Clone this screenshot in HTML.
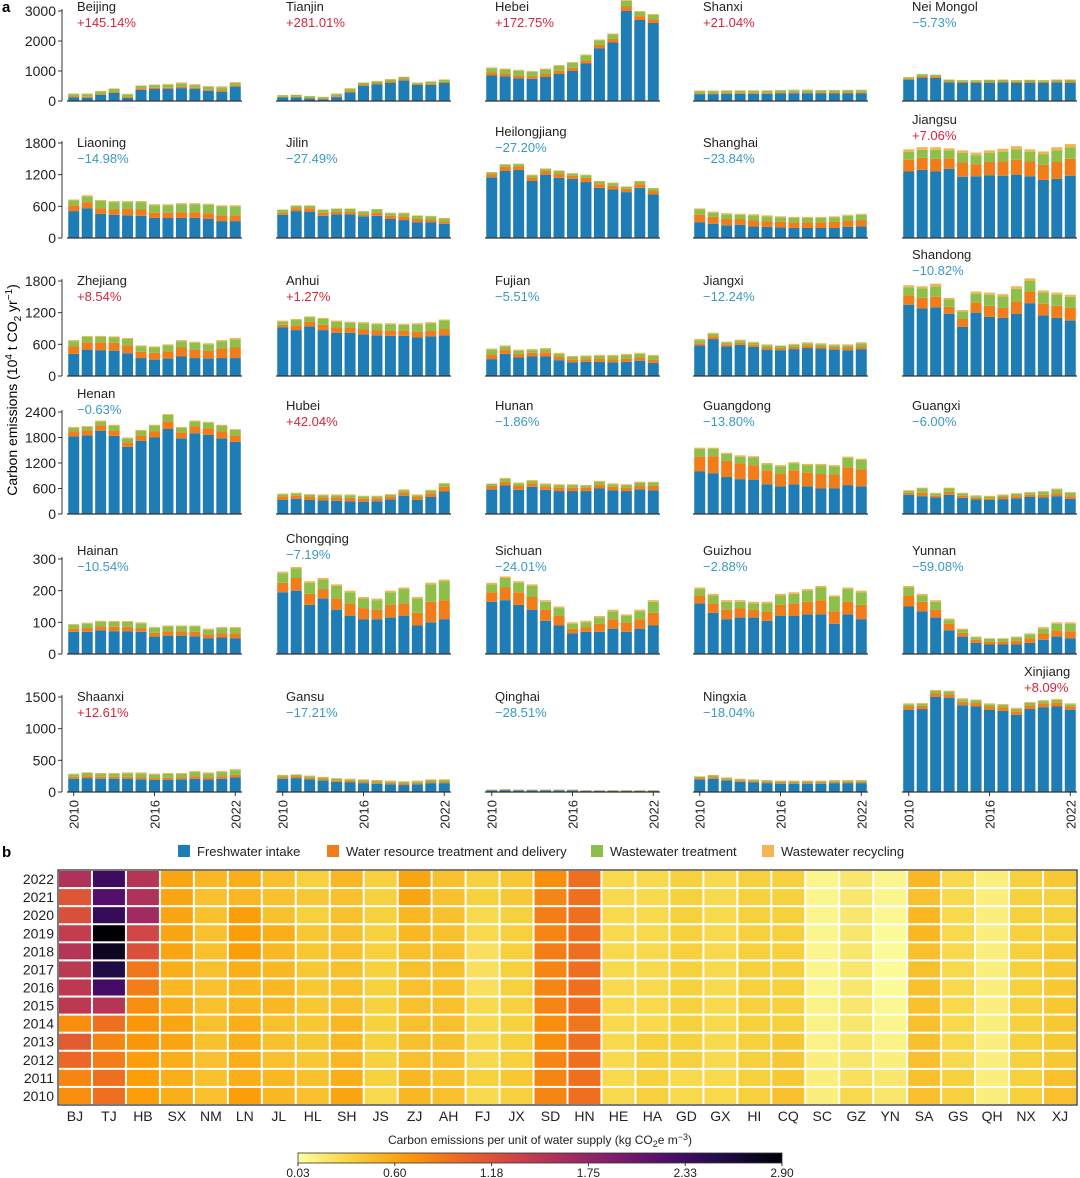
<!DOCTYPE html>
<html><head><meta charset="utf-8">
<style>
html,body{margin:0;padding:0;background:#fff;}
svg{display:block;font-family:"Liberation Sans",Arial,sans-serif;}
</style></head>
<body>
<svg id="fig" width="1080" height="1178" viewBox="0 0 1080 1178" xmlns="http://www.w3.org/2000/svg"></svg>
<script>
const years=[2010,2011,2012,2013,2014,2015,2016,2017,2018,2019,2020,2021,2022];
const panelNames=["Beijing","Tianjin","Hebei","Shanxi","Nei Mongol","Liaoning","Jilin","Heilongjiang","Shanghai","Jiangsu","Zhejiang","Anhui","Fujian","Jiangxi","Shandong","Henan","Hubei","Hunan","Guangdong","Guangxi","Hainan","Chongqing","Sichuan","Guizhou","Yunnan","Shaanxi","Gansu","Qinghai","Ningxia","Xinjiang"];
const panelPcts=["+145.14%","+281.01%","+172.75%","+21.04%","−5.73%","−14.98%","−27.49%","−27.20%","−23.84%","+7.06%","+8.54%","+1.27%","−5.51%","−12.24%","−10.82%","−0.63%","+42.04%","−1.86%","−13.80%","−6.00%","−10.54%","−7.19%","−24.01%","−2.88%","−59.08%","+12.61%","−17.21%","−28.51%","−18.04%","+8.09%"];
const fresh=[
[120,110,200,270,100,370,400,400,430,400,340,300,480],
[120,120,80,60,130,290,510,560,600,680,540,540,600],
[850,820,760,740,800,900,1000,1250,1750,1950,3000,2700,2600],
[230,230,240,240,240,240,250,260,260,250,250,250,250],
[700,780,770,620,600,600,610,620,600,610,600,620,600],
[510,560,460,440,430,420,380,380,380,380,360,320,320],
[440,510,500,420,450,450,410,420,360,340,300,300,270],
[1150,1270,1290,1080,1200,1140,1120,1060,950,920,870,950,830],
[300,270,240,250,220,210,200,190,190,190,190,210,220],
[1260,1290,1260,1310,1160,1170,1190,1180,1200,1170,1100,1120,1180],
[420,500,490,480,430,340,310,330,370,340,330,340,340],
[920,870,940,870,820,820,790,770,760,760,730,750,770],
[320,420,350,370,370,300,260,270,270,260,270,290,250],
[580,700,560,590,550,500,490,510,530,520,500,490,510],
[1350,1280,1300,1180,930,1200,1120,1100,1180,1380,1150,1100,1050],
[1830,1850,1960,1840,1580,1720,1800,2000,1780,1900,1860,1780,1700],
[330,360,330,320,310,300,290,300,340,430,330,400,530],
[580,670,570,640,570,540,540,540,600,560,540,580,560],
[1000,960,870,820,800,700,650,700,650,600,600,680,650],
[450,420,390,450,380,340,330,350,370,400,390,420,360],
[70,70,75,72,72,70,55,58,58,56,50,52,50],
[195,200,155,175,140,120,110,110,115,120,90,100,110],
[165,170,155,140,105,90,65,70,70,80,70,80,90],
[160,130,110,115,115,105,120,120,125,125,95,125,110],
[150,135,115,75,55,35,30,30,30,35,45,55,50],
[210,220,210,210,210,200,190,190,200,210,200,210,230],
[210,220,200,180,160,150,140,130,120,110,120,140,140],
[25,30,25,25,25,25,25,18,18,18,18,18,18],
[200,210,180,160,150,140,130,130,130,130,140,140,140],
[1300,1310,1500,1490,1370,1350,1300,1280,1220,1310,1340,1350,1300]];
const treat=[
[30,30,30,30,30,50,40,40,50,40,40,50,40],
[20,20,20,20,30,40,40,40,50,50,30,40,40],
[100,100,100,90,100,110,110,110,120,120,150,130,130],
[30,30,30,30,30,30,30,30,30,30,30,30,30],
[40,50,50,40,40,40,40,40,40,40,40,40,50],
[110,120,100,100,120,120,100,100,110,110,110,110,110],
[40,50,60,60,50,50,40,60,60,70,60,50,50],
[60,80,70,70,70,80,60,80,70,70,60,70,60],
[140,130,120,110,120,110,110,110,110,110,120,120,120],
[220,230,240,200,270,230,250,270,280,280,290,320,320],
[140,140,150,150,150,120,130,140,170,160,150,180,200],
[50,90,90,100,100,90,100,100,100,100,110,110,120],
[90,80,70,70,80,60,50,50,60,60,60,60,60],
[40,50,40,40,40,40,40,40,50,40,40,50,50],
[180,200,200,130,150,190,210,190,230,220,220,230,240],
[120,120,130,130,110,130,150,180,140,160,160,170,150],
[80,70,70,70,80,80,70,70,70,80,70,90,110],
[80,90,90,80,80,80,80,80,90,80,80,90,100],
[350,400,380,370,350,330,300,330,330,340,330,420,400],
[50,80,40,70,50,40,40,50,50,50,60,70,60],
[10,12,12,14,14,12,12,14,14,14,12,14,15],
[30,40,35,30,35,40,35,30,40,40,40,65,60],
[30,40,40,40,35,30,15,15,25,30,30,30,40],
[25,30,30,30,25,30,35,40,40,45,40,40,45],
[35,30,25,20,12,10,10,10,12,15,20,20,22],
[30,30,30,30,30,35,30,35,30,40,35,40,40],
[25,25,25,25,25,25,25,25,25,25,25,25,25],
[5,6,5,5,5,5,5,4,4,4,4,4,4],
[20,25,20,20,20,20,20,20,20,20,20,20,20],
[50,50,55,55,55,55,50,55,55,55,55,60,55]];
const waste=[
[80,90,90,100,90,80,90,100,110,90,90,110,80],
[50,60,60,50,70,80,60,60,70,70,40,60,60],
[140,130,150,140,150,160,160,160,150,150,190,140,140],
[70,70,70,70,70,70,70,70,70,70,70,70,80],
[50,60,50,50,50,50,50,50,50,50,50,50,50],
[90,110,140,140,130,140,140,140,150,150,160,170,170],
[50,50,50,50,50,50,50,60,50,60,60,60,50],
[30,40,40,40,40,50,40,50,50,50,40,50,50],
[100,80,90,80,90,90,80,80,80,80,80,90,100],
[150,150,170,150,180,170,170,180,200,180,200,220,220],
[100,100,100,100,120,100,100,110,120,130,120,140,150],
[60,100,80,110,110,100,110,110,120,110,140,140,160],
[90,60,60,50,60,60,50,50,50,60,70,70,70],
[60,50,40,40,40,40,40,40,40,40,40,40,60],
[150,180,200,140,140,170,210,220,240,200,210,210,210],
[80,80,90,110,90,110,130,150,110,120,130,130,130],
[50,50,50,50,50,60,50,40,40,50,40,60,70],
[50,70,60,60,50,60,60,50,70,60,60,70,80],
[180,170,160,160,180,140,170,160,170,210,190,220,220],
[40,100,50,80,50,40,40,40,50,50,70,90,80],
[12,14,15,15,15,15,15,15,15,17,15,16,17],
[30,30,35,30,40,35,30,30,40,45,45,55,60],
[25,30,30,35,25,25,15,15,20,25,20,25,35],
[20,25,25,20,20,25,30,30,35,40,45,40,40],
[25,20,25,12,10,8,8,8,10,12,15,20,23],
[40,50,50,50,55,60,55,60,55,65,60,65,75],
[25,25,25,25,25,25,25,25,25,25,25,25,25],
[7,8,7,7,7,7,7,6,6,6,6,6,6],
[20,25,20,20,20,20,20,20,20,20,20,20,20],
[35,30,40,40,40,40,35,40,40,40,40,45,30]];
const recyc=[
[20,20,20,20,20,20,20,30,30,30,30,30,30],
[10,10,10,10,20,20,10,10,10,10,10,20,20],
[30,30,30,30,30,30,30,30,30,30,40,30,30],
[20,20,20,20,20,20,20,20,20,20,20,20,20],
[10,10,10,10,10,10,10,10,10,10,10,10,20],
[20,20,20,20,20,20,20,20,20,20,20,20,20],
[10,10,10,10,10,10,10,10,10,10,10,10,10],
[10,10,10,10,10,10,10,10,10,10,10,10,10],
[20,20,20,20,20,20,20,20,20,20,20,20,20],
[50,50,50,40,50,50,50,60,60,50,50,60,60],
[20,20,20,20,20,20,20,20,20,20,20,20,30],
[20,20,20,20,20,20,20,20,20,20,20,20,20],
[20,20,20,20,20,20,20,20,20,20,20,20,20],
[20,20,10,20,20,20,10,20,20,20,20,20,20],
[40,40,50,30,30,40,40,40,50,50,40,40,40],
[20,20,20,20,20,20,20,20,20,20,20,20,20],
[20,20,20,20,20,20,20,20,20,20,20,20,20],
[10,20,20,20,20,20,20,10,20,20,20,20,20],
[30,30,30,30,30,30,30,30,30,30,30,30,30],
[20,20,20,20,20,20,20,20,20,20,20,20,20],
[3,3,3,3,3,3,3,3,3,3,3,3,3],
[5,5,5,5,5,5,5,5,5,5,5,5,5],
[5,5,5,5,5,5,5,5,5,5,5,5,5],
[5,5,5,5,5,5,5,5,5,5,5,5,5],
[5,5,5,5,3,2,2,2,3,3,5,5,5],
[10,10,10,10,15,15,15,15,15,15,15,15,15],
[10,10,10,10,10,10,10,10,10,10,10,10,10],
[3,3,3,3,3,3,3,2,2,2,2,2,2],
[10,10,10,10,10,10,10,10,10,10,10,10,10],
[15,15,15,15,15,15,15,15,15,15,15,15,15]];
const rowMax=[3000,1800,1800,2400,300,1500];
const rowTicks=[[0,1000,2000,3000],[0,600,1200,1800],[0,600,1200,1800],[0,600,1200,1800,2400],[0,100,200,300],[0,500,1000,1500]];
const xTickLabels=["2010","2016","2022"];
const seriesNames=["Freshwater intake","Water resource treatment and delivery","Wastewater treatment","Wastewater recycling"];
const heatCodes=["BJ","TJ","HB","SX","NM","LN","JL","HL","SH","JS","ZJ","AH","FJ","JX","SD","HN","HE","HA","GD","GX","HI","CQ","SC","GZ","YN","SA","GS","QH","NX","XJ"];
const heatVals=[
[0.75,0.8,1.0,1.1,0.75,1.45,1.45,1.45,1.5,1.4,1.2,1.15,1.55],
[0.95,0.95,0.85,0.8,0.95,1.5,2.3,2.55,2.75,2.9,2.4,2.2,2.35],
[0.65,0.65,0.65,0.7,0.7,0.75,0.85,0.9,1.2,1.3,1.65,1.55,1.5],
[0.55,0.55,0.55,0.6,0.6,0.55,0.5,0.55,0.6,0.6,0.6,0.6,0.6],
[0.45,0.45,0.45,0.45,0.45,0.45,0.45,0.45,0.45,0.45,0.45,0.45,0.5],
[0.65,0.55,0.55,0.55,0.55,0.5,0.5,0.55,0.65,0.65,0.65,0.5,0.55],
[0.5,0.5,0.45,0.45,0.45,0.5,0.5,0.5,0.5,0.55,0.45,0.45,0.45],
[0.45,0.45,0.4,0.4,0.4,0.4,0.4,0.4,0.4,0.4,0.35,0.4,0.35],
[0.6,0.55,0.5,0.5,0.5,0.45,0.45,0.45,0.45,0.45,0.45,0.45,0.5],
[0.3,0.35,0.35,0.35,0.35,0.35,0.35,0.35,0.35,0.35,0.35,0.35,0.35],
[0.5,0.5,0.45,0.45,0.45,0.45,0.45,0.45,0.45,0.5,0.5,0.6,0.6],
[0.45,0.45,0.45,0.45,0.45,0.45,0.45,0.45,0.45,0.45,0.45,0.45,0.45],
[0.3,0.35,0.3,0.3,0.3,0.3,0.25,0.25,0.25,0.3,0.3,0.35,0.35],
[0.35,0.4,0.35,0.35,0.35,0.35,0.35,0.35,0.35,0.35,0.35,0.4,0.4],
[0.8,0.8,0.8,0.75,0.75,0.8,0.8,0.8,0.85,0.8,0.85,0.8,0.75],
[0.95,0.95,0.95,0.95,0.9,0.95,0.95,0.95,0.95,0.95,0.95,0.95,0.95],
[0.3,0.3,0.3,0.3,0.3,0.3,0.3,0.3,0.3,0.3,0.3,0.3,0.3],
[0.35,0.35,0.35,0.35,0.3,0.3,0.3,0.3,0.3,0.3,0.3,0.3,0.3],
[0.3,0.3,0.35,0.35,0.35,0.35,0.35,0.35,0.35,0.35,0.35,0.35,0.35],
[0.3,0.3,0.3,0.3,0.3,0.3,0.3,0.3,0.3,0.3,0.3,0.3,0.3],
[0.35,0.35,0.35,0.35,0.35,0.35,0.35,0.35,0.35,0.35,0.35,0.35,0.35],
[0.45,0.4,0.4,0.4,0.35,0.35,0.35,0.35,0.35,0.35,0.35,0.35,0.35],
[0.15,0.15,0.15,0.12,0.12,0.12,0.1,0.1,0.1,0.1,0.1,0.1,0.1],
[0.3,0.25,0.2,0.2,0.2,0.2,0.2,0.2,0.2,0.2,0.2,0.2,0.2],
[0.2,0.2,0.15,0.12,0.1,0.08,0.06,0.06,0.06,0.06,0.08,0.1,0.1],
[0.45,0.45,0.45,0.45,0.45,0.45,0.45,0.45,0.45,0.5,0.5,0.45,0.5],
[0.35,0.35,0.3,0.3,0.3,0.3,0.3,0.3,0.3,0.3,0.3,0.3,0.3],
[0.15,0.15,0.15,0.15,0.15,0.15,0.15,0.15,0.15,0.15,0.15,0.15,0.15],
[0.35,0.35,0.35,0.35,0.35,0.35,0.35,0.35,0.35,0.35,0.35,0.35,0.35],
[0.45,0.45,0.4,0.4,0.4,0.4,0.4,0.4,0.4,0.35,0.35,0.35,0.4]];
const cbTicks=["0.03","0.60","1.18","1.75","2.33","2.90"];

const NS="http://www.w3.org/2000/svg";
const svg=document.getElementById('fig');
function mk(tag,attrs,parent){const e=document.createElementNS(NS,tag);for(const k in attrs)e.setAttribute(k,attrs[k]);(parent||svg).appendChild(e);return e;}
function txt(s,attrs,parent){const e=mk('text',attrs,parent);e.textContent=s;return e;}

const colors=["#1f7db6","#f07d1a","#8dbf4a","#f5b452"];
const colX=[67,276,485,693,902], panelW=175;
const rowBase=[101,238,376,514,654,792], rowPx=[90,95,95,102,95,95];
const labelY={7:131,9:119,14:254,15:393,21:538,29:671};
const defLabelY=[6,142,280,405,550,696];

let lab=txt('a',{x:2,y:12,'font-size':15,'font-weight':'bold'});



// y axis title
let yt=txt('',{x:0,y:0,'font-size':14,'text-anchor':'middle',transform:'translate(17,390) rotate(-90)'});


yt.innerHTML='Carbon emissions (10<tspan dy="-5" font-size="10">4</tspan><tspan dy="5"> t CO</tspan><tspan dy="4" font-size="10">2</tspan><tspan dy="-4"> yr</tspan><tspan dy="-5" font-size="10">−1</tspan><tspan dy="5">)</tspan>';

for(let r=0;r<6;r++){
  const base=rowBase[r], sc=rowPx[r]/rowMax[r];
  const yOf=v=>base-v*sc;
  const ax=mk('g',{});
  
  
  mk('line',{x1:62,x2:62,y1:base,y2:yOf(rowMax[r])-2,stroke:'#333','stroke-width':1},ax);
  rowTicks[r].forEach(t=>{
    mk('line',{x1:58,x2:62,y1:yOf(t),y2:yOf(t),stroke:'#333'},ax);
    const tl=txt(String(t),{x:56,y:yOf(t)+5,'font-size':14,'text-anchor':'end',fill:'#222'},ax);
    
    
  });
  for(let c=0;c<5;c++){
    const p=r*5+c, x0=colX[c], pitch=panelW/13, bw=11;
    const g=mk('g',{});
    
    
    const series=[fresh[p],treat[p],waste[p],recyc[p]];
    for(let i=0;i<13;i++){
      let cum=0;
      for(let s=0;s<4;s++){
        const v=series[s][i];
        const rc=mk('rect',{x:x0+i*pitch+(pitch-bw)/2,y:yOf(cum+v),width:bw,height:v*sc,fill:colors[s]},g);
        
        
        cum+=v;
      }
    }
    mk('line',{x1:x0,x2:x0+panelW,y1:base,y2:base,stroke:'#333','stroke-width':1.3},g);
    const isX=p===29;
    const ly=labelY[p]!==undefined?labelY[p]:defLabelY[r];
    const lx=isX?1024:x0+10;
    const n=txt(panelNames[p],{x:lx,y:ly+5,'font-size':13,fill:'#222'},g);
    
    
    const pc=txt(panelPcts[p],{x:lx,y:ly+21,'font-size':13,fill:panelPcts[p][0]==='+'?'#d7263d':'#3b9ac4'},g);
    
    
    if(r===5){
      [0,6,12].forEach((yi,k)=>{
        const cx=x0+yi*pitch+pitch/2;
        mk('line',{x1:cx,x2:cx,y1:base,y2:base+4,stroke:'#333'},g);
        const xl=txt(xTickLabels[k],{x:0,y:0,'font-size':13,'text-anchor':'end',transform:`translate(${cx+5},${base+8}) rotate(-90)`,fill:'#222'},g);
        
        
      });
    }
  }
}

// legend
const legX=[178,327,591,762];
const leg=mk('g',{});


seriesNames.forEach((s,i)=>{
  const e=mk('g',{},leg);
  
  
  mk('rect',{x:legX[i],y:845,width:12,height:12,fill:colors[i]},e);
  txt(s,{x:legX[i]+19,y:856,'font-size':13,fill:'#222'},e);
});

// heatmap
let lb=txt('b',{x:2,y:857,'font-size':15,'font-weight':'bold'});


const stops=["#000004","#1b0c41","#4a0c6b","#781c6d","#a52c60","#cf4446","#ed6925","#fb9b06","#f7d13d","#fcffa4"];
function hex(h){return [1,3,5].map(i=>parseInt(h.substr(i,2),16));}
function cmap(v){
  let t=1-(v-0.03)/2.87; t=Math.max(0,Math.min(1,t));
  const f=t*(stops.length-1), i=Math.min(Math.floor(f),stops.length-2), u=f-i;
  const a=hex(stops[i]), b=hex(stops[i+1]);
  return 'rgb('+a.map((x,k)=>Math.round(x+(b[k]-x)*u)).join(',')+')';
}
const hx0=58,hx1=1077,hy0=870,hy1=1105;
const cw=(hx1-hx0)/heatCodes.length, ch=(hy1-hy0)/years.length;
const hm=mk('g',{});


mk('rect',{x:hx0,y:hy0,width:hx1-hx0,height:hy1-hy0,fill:'#fff'},hm);
heatCodes.forEach((code,c)=>{
  heatVals[c].forEach((v,yi)=>{
    const row=years.length-1-yi;
    const cell=mk('rect',{x:hx0+c*cw+1,y:hy0+row*ch+1,width:cw-2,height:ch-2,fill:cmap(v)},hm);
    
    
  });
  const cl=txt(code,{x:hx0+c*cw+cw/2,y:1121,'font-size':14,'text-anchor':'middle',fill:'#222'},hm);
  
  
});
years.forEach((y,yi)=>{
  const row=years.length-1-yi;
  const rl=txt(String(y),{x:54,y:hy0+row*ch+ch/2+5,'font-size':14,'text-anchor':'end',fill:'#222'},hm);
  
  
});
mk('rect',{x:hx0,y:hy0,width:hx1-hx0,height:hy1-hy0,fill:'none',stroke:'#222','stroke-width':1.2},hm);

// colorbar
const cb=mk('g',{});


const ct=txt('',{x:540,y:1144,'font-size':12,'text-anchor':'middle',fill:'#222'},cb);
ct.innerHTML='Carbon emissions per unit of water supply (kg CO<tspan dy="3" font-size="9">2</tspan><tspan dy="-3">e m</tspan><tspan dy="-4" font-size="9">−3</tspan><tspan dy="4">)</tspan>';
const defs=mk('defs',{});
const lg=mk('linearGradient',{id:'cbg',x1:0,x2:1,y1:0,y2:0},defs);
for(let i=0;i<=20;i++){const v=0.03+2.87*i/20;mk('stop',{offset:(i/20),'stop-color':cmap(v)},lg);}
const cbx0=298,cbx1=782;
mk('rect',{x:cbx0,y:1153,width:cbx1-cbx0,height:10,fill:'url(#cbg)',stroke:'#333','stroke-width':0.8},cb);
cbTicks.forEach((t,i)=>{
  const x=cbx0+(cbx1-cbx0)*i/(cbTicks.length-1);
  mk('line',{x1:x,x2:x,y1:1163,y2:1166,stroke:'#333'},cb);
  const tl=txt(t,{x:x,y:1177,'font-size':12,'text-anchor':'middle',fill:'#222'},cb);
  
  
});
</script>
</body></html>
